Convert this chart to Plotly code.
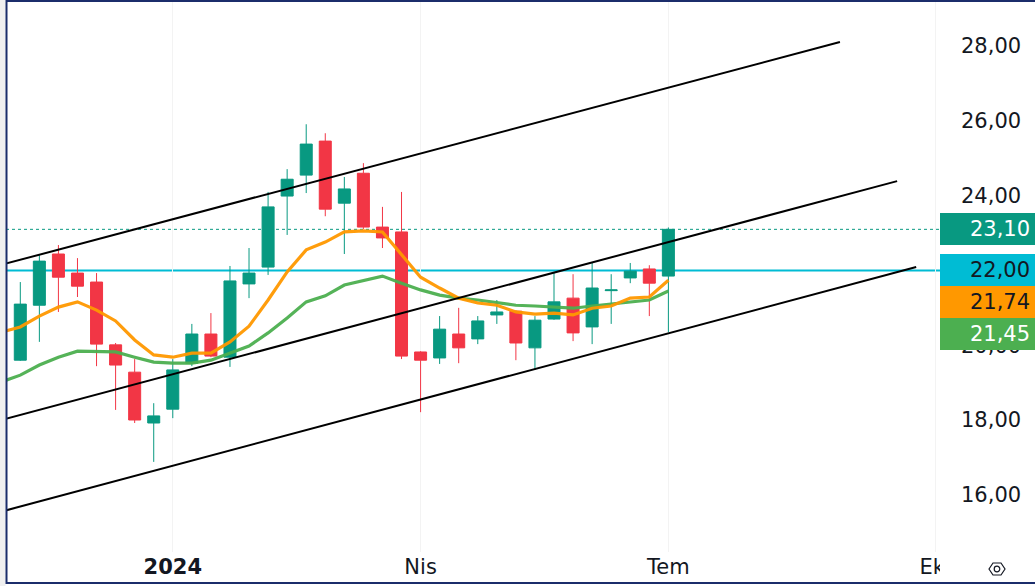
import plotly.graph_objects as go
import pandas as pd

# ---------------- data ----------------
candle_dates = pd.date_range("2023-11-06", periods=35, freq="7D")
opens = [19.60, 21.07, 22.44, 21.93, 21.69, 20.01, 19.28, 17.92, 18.29, 19.52,
         20.30, 19.68, 21.64, 22.09, 23.99, 24.55, 25.46, 23.80, 24.60, 23.16,
         23.03, 19.82, 19.66, 20.30, 20.17, 20.81, 20.91, 19.93, 20.70, 21.26,
         20.49, 21.46, 21.80, 22.04, 21.85]
highs = [21.69, 22.41, 22.68, 22.33, 21.93, 20.06, 19.63, 18.45, 19.63, 20.57,
         20.86, 22.12, 22.60, 24.10, 24.71, 25.91, 25.67, 24.50, 24.87, 23.70,
         24.10, 19.84, 20.78, 21.00, 20.78, 21.21, 20.93, 20.78, 21.96, 21.90,
         22.20, 21.90, 22.20, 22.14, 23.15]
lows = [19.58, 20.09, 20.89, 21.29, 19.44, 18.27, 17.92, 16.88, 18.05, 19.44,
        19.68, 19.42, 21.26, 21.88, 22.95, 24.07, 23.45, 22.44, 23.11, 22.60,
        19.63, 18.21, 19.50, 19.52, 20.03, 20.57, 19.60, 19.34, 20.68, 20.11,
        20.03, 20.57, 21.66, 20.78, 20.35]
closes = [21.10, 22.25, 21.82, 21.58, 20.03, 19.47, 18.00, 18.11, 19.34, 20.30,
          19.71, 21.72, 21.93, 23.70, 24.44, 25.38, 23.64, 24.18, 23.16, 22.87,
          19.71, 19.60, 20.43, 19.93, 20.65, 20.89, 20.06, 20.67, 21.16, 20.33,
          21.53, 21.48, 21.98, 21.66, 23.10]

ma_dates = pd.date_range("2023-10-30", periods=36, freq="7D")
ma_fast = [20.35, 20.49, 20.78, 21.02, 21.16, 20.94, 20.65, 20.14, 19.74, 19.68,
           19.79, 19.79, 20.09, 20.51, 21.21, 21.96, 22.55, 22.76, 23.03, 23.06,
           23.03, 22.41, 21.82, 21.53, 21.26, 21.13, 21.07, 20.89, 20.83, 20.86,
           20.81, 20.99, 21.05, 21.26, 21.29, 21.74]
ma_slow = [19.02, 19.20, 19.47, 19.68, 19.84, 19.84, 19.82, 19.68, 19.55, 19.52,
           19.52, 19.60, 19.79, 19.98, 20.33, 20.73, 21.16, 21.32, 21.61, 21.74,
           21.85, 21.66, 21.48, 21.34, 21.26, 21.21, 21.13, 21.07, 21.05, 21.02,
           20.99, 21.05, 21.10, 21.16, 21.21, 21.45]

channel_top_x = ["2023-10-30", "2024-09-02"]
channel_top_y = [22.15, 28.11]
channel_mid_x = ["2023-10-30", "2024-09-23"]
channel_mid_y = [18.00, 24.39]
channel_bot_x = ["2023-10-30", "2024-09-30"]
channel_bot_y = [15.55, 22.09]

hline_level = 22.00

x_tick_vals = ["2024-01-01", "2024-04-01", "2024-07-01", "2024-10-07"]
x_tick_text = ["<b>2024</b>", "Nis", "Tem", "Eki"]
y_tick_vals = [16, 18, 20, 22, 24, 26, 28]

# ---------------- style ----------------
UP = "#089981"
DOWN = "#F23645"
ORANGE = "#FF9800"
GREEN = "#4CAF50"
CYAN = "#00BCD4"
TEXT = "#131722"
FONT = "DejaVu Sans"

W, H = 1035, 586
ML, MR, MT, MB = 6, 95, 2, 34
PW, PH = W - ML - MR, H - MT - MB
x_range = ["2023-10-31 18:00", "2024-10-08 18:00"]
y_range = [14.47, 29.18]

fig = go.Figure()

fig.add_trace(go.Scatter(x=ma_dates, y=ma_slow, mode="lines",
                         line=dict(color=GREEN, width=3.2), opacity=0.95,
                         hoverinfo="skip", showlegend=False))
fig.add_trace(go.Scatter(x=ma_dates, y=ma_fast, mode="lines",
                         line=dict(color=ORANGE, width=3.2), opacity=0.95,
                         hoverinfo="skip", showlegend=False))

fig.add_trace(go.Candlestick(
    x=candle_dates, open=opens, high=highs, low=lows, close=closes,
    increasing=dict(line=dict(color=UP, width=1), fillcolor=UP),
    decreasing=dict(line=dict(color=DOWN, width=1), fillcolor=DOWN),
    whiskerwidth=0, hoverinfo="skip", showlegend=False))

for cx, cy in [(channel_top_x, channel_top_y), (channel_mid_x, channel_mid_y),
               (channel_bot_x, channel_bot_y)]:
    fig.add_trace(go.Scatter(x=cx, y=cy, mode="lines",
                             line=dict(color="#000000", width=2),
                             hoverinfo="skip", showlegend=False))

shapes = [
    dict(type="line", xref="paper", x0=0, x1=1, yref="y", y0=hline_level, y1=hline_level,
         line=dict(color=CYAN, width=2), layer="below"),
    dict(type="line", xref="paper", x0=0, x1=1, yref="y", y0=closes[-1], y1=closes[-1],
         line=dict(color=UP, width=1, dash="dot"), layer="below"),
]

def px_x(p):
    return (p - ML) / PW

def px_y(p):
    return (MT + PH - p) / PH

# cover for the time-axis area under the price scale (clips last month label)
shapes.append(dict(type="rect", xref="paper", yref="paper",
                   x0=px_x(ML + PW), x1=px_x(W + 5), y0=px_y(MT + PH), y1=px_y(583),
                   fillcolor="white", line=dict(width=0), layer="above"))
# grey strip at the far left
shapes.append(dict(type="rect", xref="paper", yref="paper",
                   x0=px_x(-2), x1=px_x(5.5), y0=px_y(H + 2), y1=px_y(-2),
                   fillcolor="#f0f0f0", line=dict(width=0), layer="above"))
# navy frame
shapes.append(dict(type="rect", xref="paper", yref="paper",
                   x0=px_x(6.5), x1=px_x(W + 10), y0=px_y(583), y1=px_y(1),
                   fillcolor="rgba(0,0,0,0)", line=dict(color="#1b2d6b", width=2),
                   layer="above"))
# settings icon (hexagon with circle)
ix, iy = px_x(997), px_y(569)
shapes.append(dict(type="path", xref="paper", yref="paper",
                   xsizemode="pixel", ysizemode="pixel", xanchor=ix, yanchor=iy,
                   path="M -8 0 L -4 6 L 4 6 L 8 0 L 4 -6 L -4 -6 Z",
                   line=dict(color=TEXT, width=1.2), layer="above"))
shapes.append(dict(type="circle", xref="paper", yref="paper",
                   xsizemode="pixel", ysizemode="pixel", xanchor=ix, yanchor=iy,
                   x0=-2.8, x1=2.8, y0=-2.8, y1=2.8,
                   line=dict(color=TEXT, width=1.2), layer="above"))

# price labels on the right scale, stacked to avoid overlap
ppu = PH / (y_range[1] - y_range[0])
labels = [(closes[-1], UP, "white"), (hline_level, CYAN, TEXT),
          (ma_fast[-1], ORANGE, TEXT), (ma_slow[-1], GREEN, "white")]
box_h = 32
prev_bottom = -1e9
annotations = []
for val, bg, fg in labels:
    natural = (y_range[1] - val) * ppu
    center = natural
    if center - box_h / 2 < prev_bottom:
        center = prev_bottom + box_h / 2
    prev_bottom = center + box_h / 2
    annotations.append(dict(
        x=1, xref="paper", xanchor="left", y=val, yref="y", yanchor="middle",
        yshift=-(center - natural), text=f"{val:.2f}".replace(".", ","),
        showarrow=False, bgcolor=bg, font=dict(color=fg, size=21, family=FONT),
        width=120, height=box_h, align="center", borderpad=0, borderwidth=0))

fig.update_layout(
    width=W, height=H, autosize=False,
    margin=dict(l=ML, r=MR, t=MT, b=MB),
    paper_bgcolor="white", plot_bgcolor="white",
    separators=",.",
    font=dict(family=FONT, color=TEXT, size=21),
    shapes=shapes, annotations=annotations,
    xaxis=dict(type="date", range=x_range, rangeslider=dict(visible=False),
               tickvals=x_tick_vals, ticktext=x_tick_text,
               showgrid=True, gridcolor="#f3f3f3", gridwidth=1,
               zeroline=False, showline=False, ticks="",
               tickfont=dict(size=21, color=TEXT, family=FONT),
               ticklabelstandoff=0, fixedrange=True),
    yaxis=dict(range=y_range, side="right", tickvals=y_tick_vals, tickformat=".2f",
               showgrid=False, zeroline=False, showline=False, ticks="",
               tickfont=dict(size=21, color=TEXT, family=FONT),
               ticklabelstandoff=20, fixedrange=True),
    boxgap=0.37, boxgroupgap=0,
)

fig.write_html("out.html",
               config={"displayModeBar": False},
               post_script="document.body.style.margin='0px';"
                           "document.body.style.overflow='hidden';")
